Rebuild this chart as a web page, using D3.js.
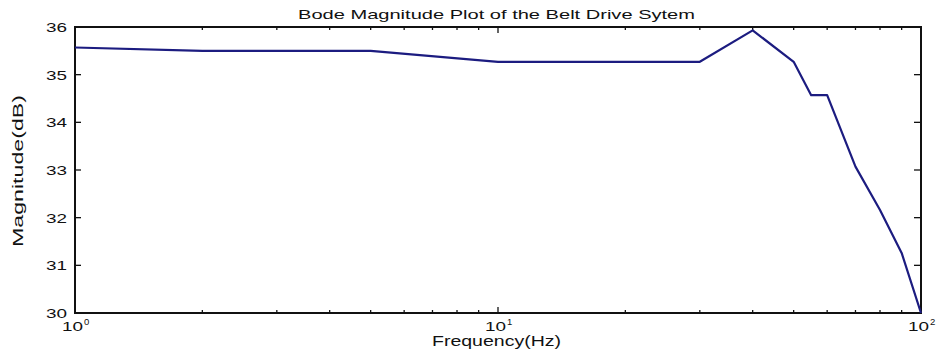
<!DOCTYPE html>
<html>
<head>
<meta charset="utf-8">
<script src="https://cdn.jsdelivr.net/npm/d3@7"></script>
<style>
  body { margin: 0; background: #fff; }
  text { font-family: "Liberation Sans", Arial, sans-serif; fill: #111; }
</style>
</head>
<body>
<script>
// frequency samples (Hz) and magnitude (dB)
var freq = [1, 2, 5, 10, 30, 40, 50, 55, 60, 70, 80, 90, 100];
var magDb = [35.57, 35.5, 35.5, 35.27, 35.27, 35.93, 35.27, 34.57, 34.57, 33.07, 32.16, 31.26, 30.0];
var yTicks = [30, 31, 32, 33, 34, 35, 36];
var decades = [0, 1, 2];

function bodePlot()
{
  var width = 937, height = 350,
      pL = 75, pR = 921, pT = 27, pB = 313;

  var svg = d3.select('body').append('svg').attr('width', width).attr('height', height);

  var x = d3.scaleLog().domain([1, 100]).range([pL, pR]);
  var y = d3.scaleLinear().domain([30, 36]).range([pB, pT]);

  // minor + major ticks on log axis
  var xTickVals = [];
  for (var d = 1; d < 100; d *= 10)
    for (var k = 1; k < 10; k++) xTickVals.push(d * k);
  xTickVals.push(100);
  var isMajor = function(v) { return Math.abs(Math.log10(v) - Math.round(Math.log10(v))) < 1e-9; };

  var g = svg.append('g');

  // bottom and top ticks (inward)
  g.selectAll('.xtb').data(xTickVals).enter().append('line')
    .attr('x1', function(v) { return x(v); }).attr('x2', function(v) { return x(v); })
    .attr('y1', pB).attr('y2', function(v) { return pB - (isMajor(v) ? 6 : 3); })
    .attr('stroke', '#111').attr('stroke-width', 1.3);
  g.selectAll('.xtt').data(xTickVals).enter().append('line')
    .attr('x1', function(v) { return x(v); }).attr('x2', function(v) { return x(v); })
    .attr('y1', pT).attr('y2', function(v) { return pT + (isMajor(v) ? 6 : 3); })
    .attr('stroke', '#111').attr('stroke-width', 1.3);

  // left and right ticks
  g.selectAll('.ytl').data(yTicks).enter().append('line')
    .attr('x1', pL).attr('x2', pL + 6)
    .attr('y1', function(v) { return y(v); }).attr('y2', function(v) { return y(v); })
    .attr('stroke', '#111').attr('stroke-width', 1.3);
  g.selectAll('.ytr').data(yTicks).enter().append('line')
    .attr('x1', pR).attr('x2', pR - 7)
    .attr('y1', function(v) { return y(v); }).attr('y2', function(v) { return y(v); })
    .attr('stroke', '#111').attr('stroke-width', 1.3);

  // box
  g.append('rect').attr('x', pL).attr('y', pT)
    .attr('width', pR - pL).attr('height', pB - pT)
    .attr('fill', 'none').attr('stroke', '#111').attr('stroke-width', 2);

  // y tick labels (source image is stretched horizontally, so stretch glyphs too)
  g.selectAll('.yl').data(yTicks).enter().append('text')
    .attr('x', pL - 8).attr('y', function(v) { return y(v) + 5; })
    .attr('text-anchor', 'end').style('font-size', '13.5px')
    .attr('textLength', 21).attr('lengthAdjust', 'spacingAndGlyphs')
    .text(function(v) { return v; });

  // x tick labels 10^n
  var xl = g.selectAll('.xl').data(decades).enter().append('text')
    .attr('x', function(v) { return x(Math.pow(10, v)) - 13; })
    .attr('y', pB + 18).style('font-size', '13.5px');
  xl.append('tspan').attr('textLength', 21).attr('lengthAdjust', 'spacingAndGlyphs').text('10');
  xl.append('tspan').attr('dx', 1).attr('dy', -6).style('font-size', '9.5px').text(function(v) { return v; });

  // data line
  var line = d3.line().x(function(d) { return x(d[0]); }).y(function(d) { return y(d[1]); });
  svg.append('path')
    .datum(freq.map(function(f, i) { return [f, magDb[i]]; }))
    .attr('d', line).attr('fill', 'none')
    .attr('stroke', '#1c1c80').attr('stroke-width', 2.2).attr('stroke-linejoin', 'round');

  // title and labels
  svg.append('text').attr('x', 298).attr('y', 19)
    .style('font-size', '13px')
    .attr('textLength', 397).attr('lengthAdjust', 'spacingAndGlyphs')
    .text('Bode Magnitude Plot of the Belt Drive Sytem');
  svg.append('text').attr('x', 432).attr('y', 346)
    .style('font-size', '14px')
    .attr('textLength', 129).attr('lengthAdjust', 'spacingAndGlyphs')
    .text('Frequency(Hz)');
  svg.append('text').attr('transform', 'translate(23,247) rotate(-90)')
    .style('font-size', '14px')
    .attr('textLength', 152).attr('lengthAdjust', 'spacingAndGlyphs')
    .text('Magnitude(dB)');
}
bodePlot();
</script>
</body>
</html>
